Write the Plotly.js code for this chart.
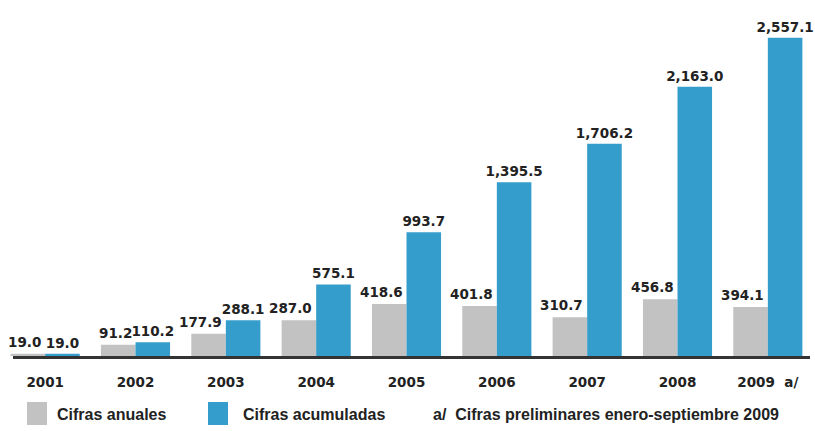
<!DOCTYPE html>
<html>
<head>
<meta charset="utf-8">
<script src="https://cdn.plot.ly/plotly-3.0.1.min.js"></script>
<style>html,body{margin:0;padding:0;background:#fff;}#chart{width:815px;height:431px;}</style>
</head>
<body>
<div id="chart"></div>
<script>
var years = ['2001', '2002', '2003', '2004', '2005', '2006', '2007', '2008', '2009  a/'];
var cifrasAnuales = [19.0, 91.2, 177.9, 287.0, 418.6, 401.8, 310.7, 456.8, 394.1];
var cifrasAcumuladas = [19.0, 110.2, 288.1, 575.1, 993.7, 1395.5, 1706.2, 2163.0, 2557.1];
var seriesNames = ['Cifras anuales', 'Cifras acumuladas'];
var noteText = 'a/  Cifras preliminares enero-septiembre 2009';

var labelFont = {family: 'DejaVu Sans', size: 13.5, color: '#222', weight: 'bold'};
var legendFont = {family: 'Liberation Sans, Arial, sans-serif', size: 16, color: '#222', weight: 'bold'};
var grey = '#c2c2c2', blue = '#349dcb';

function fmt(v) { return v.toLocaleString('en-US', {minimumFractionDigits: 1, maximumFractionDigits: 1}); }

var traces = [
  {type: 'bar', x: years, y: cifrasAnuales, name: seriesNames[0],
   marker: {color: grey}, hoverinfo: 'none'},
  {type: 'bar', x: years, y: cifrasAcumuladas, name: seriesNames[1],
   marker: {color: blue}, texttemplate: '%{y:,.1f}', textposition: 'outside',
   constraintext: 'none', cliponaxis: false, textfont: labelFont, hoverinfo: 'none'}
];

var W = 813, H = 336;
function px(x) { return x / W; }
function py(y) { return (356 - y) / H; }

// grey-bar labels: at each category (by index on the category axis) and value,
// right-aligned to the grey bar's right edge
var greyLabels = cifrasAnuales.map(function (v, i) {
  return {xref: 'x', yref: 'y', x: i, y: v, xanchor: 'right', yanchor: 'bottom',
          xshift: -2, yshift: 2, text: fmt(v), showarrow: false, font: labelFont};
});

var layout = {
  width: 815, height: 431,
  margin: {l: 0, r: 2, t: 20, b: 75},
  paper_bgcolor: '#fff', plot_bgcolor: '#fff',
  barmode: 'group', bargap: 0.235, bargroupgap: 0,
  showlegend: false,
  xaxis: {type: 'category', range: [-0.5, years.length - 0.5], autorange: false,
          showgrid: false, zeroline: false, showline: false,
          ticks: 'outside', ticklen: 14, tickcolor: 'rgba(0,0,0,0)',
          tickfont: labelFont},
  yaxis: {visible: false, range: [0, 2700], showgrid: false, zeroline: false},
  shapes: [
    {type: 'line', xref: 'paper', yref: 'paper', x0: px(13), x1: px(810), y0: py(357.5), y1: py(357.5),
     line: {color: '#333', width: 3}},
    {type: 'rect', xref: 'paper', yref: 'paper', x0: px(27), x1: px(47), y0: py(425), y1: py(402),
     fillcolor: grey, line: {width: 0}},
    {type: 'rect', xref: 'paper', yref: 'paper', x0: px(208), x1: px(228), y0: py(425), y1: py(402),
     fillcolor: blue, line: {width: 0}}
  ],
  annotations: greyLabels.concat([
    {xref: 'paper', yref: 'paper', x: px(55), y: py(414), xanchor: 'left', yanchor: 'middle',
     text: seriesNames[0], showarrow: false, font: legendFont},
    {xref: 'paper', yref: 'paper', x: px(241), y: py(414), xanchor: 'left', yanchor: 'middle',
     text: seriesNames[1], showarrow: false, font: legendFont},
    {xref: 'paper', yref: 'paper', x: px(431), y: py(414), xanchor: 'left', yanchor: 'middle',
     text: noteText, showarrow: false, font: legendFont}
  ])
};

Plotly.newPlot('chart', traces, layout, {displayModeBar: false, staticPlot: true});
</script>
</body>
</html>
